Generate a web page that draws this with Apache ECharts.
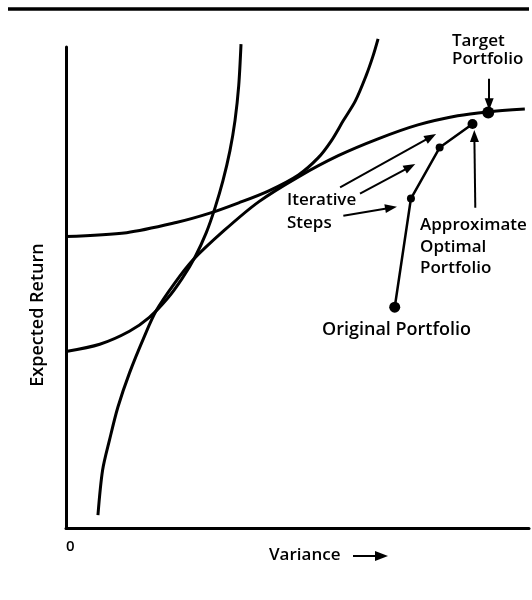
<!DOCTYPE html>
<html>
<head>
<meta charset="utf-8">
<script src="https://cdn.jsdelivr.net/npm/echarts@6/dist/echarts.min.js"></script>
<style>html,body{margin:0;padding:0;background:#fff;}#c{width:532px;height:600px;}</style>
</head>
<body>
<div id="c"></div>
<script>
// Efficient frontier (variance, expected return)
const frontierX = [6.9, 7.9, 9.4, 11.2, 13.7, 17.0, 19.5, 23.4, 27.3, 34.1, 41.6, 50.2, 58.8, 67.4, 76.0, 84.6, 91.0, 99.1];
const frontierY = [2.7, 12.0, 18.3, 25.1, 32.2, 40.0, 45.2, 50.8, 55.6, 61.8, 67.8, 73.0, 77.4, 80.9, 83.8, 85.7, 86.5, 87.1];
// Lower indifference curve
const lowerICX = [0, 7.3, 13.7, 18.0, 21.9, 25.1, 27.9, 30.3, 32.2, 33.9, 35.4, 36.5, 37.3, 37.8];
const lowerICY = [36.7, 38.2, 40.9, 43.8, 47.7, 51.9, 56.4, 61.4, 66.6, 72.2, 78.4, 84.7, 91.9, 100.6];
// Upper indifference curve
const upperICX = [0, 13.1, 23.8, 30.9, 37.3, 43.8, 50.2, 54.5, 57.3, 59.9, 62.5, 64.8, 66.3, 67.4];
const upperICY = [60.6, 61.4, 63.5, 65.4, 67.6, 70.1, 73.4, 77.0, 80.5, 84.7, 88.8, 94.0, 98.1, 101.7];
// Iterative path: original portfolio -> steps -> approximate optimal portfolio
const pathX = [71.0, 74.5, 80.7, 87.8];
const pathY = [45.9, 68.5, 79.1, 84.0];
// Target portfolio
const targetX = [91.2];
const targetY = [86.4];
// Annotation arrows [x1, y1, x2, y2]
const stepArrows = [
  [59.2, 70.8, 78.8, 81.3],
  [63.5, 69.5, 74.3, 75.1],
  [59.9, 64.9, 70.2, 66.6]
];
const targetArrow = [91.4, 93.4, 91.4, 88.1];
const approxArrow = [88.4, 66.6, 88.2, 81.5];

const zip = (a, b) => a.map((v, i) => [v, b[i]]);
const FONT = '"Open Sans", "DejaVu Sans", sans-serif';
const txt = (text, x, y, size, extra) => Object.assign({
  type: 'text', x: x, y: y,
  style: { text: text, fill: '#000', font: '600 ' + (size || 17) + 'px ' + FONT, align: 'left', verticalAlign: 'middle' }
}, extra || {});

const arrowLine = (a, curv) => [{ coord: [a[0], a[1]] }, { coord: [a[2], a[3]], lineStyle: { curveness: curv || 0 } }];

const chart = echarts.init(document.getElementById('c'));
chart.setOption({
  animation: false,
  backgroundColor: '#fff',
  grid: { left: 66, top: 47, right: 0, bottom: 72 },
  xAxis: {
    type: 'value', min: 0, max: 100, interval: 100,
    axisLine: { show: true, lineStyle: { color: '#000', width: 3 } },
    axisTick: { show: false }, splitLine: { show: false },
    axisLabel: { show: true, formatter: v => v === 0 ? '0' : '', color: '#000', align: 'left', margin: 11,
      fontFamily: FONT, fontWeight: 600, fontSize: 15 }
  },
  yAxis: {
    type: 'value', min: 0, max: 100, interval: 100,
    axisLine: { show: true, lineStyle: { color: '#000', width: 3 } },
    axisTick: { show: false }, splitLine: { show: false }, axisLabel: { show: false }
  },
  series: [
    { type: 'line', data: zip(frontierX, frontierY), smooth: 0.3, symbol: 'none', clip: false,
      lineStyle: { color: '#000', width: 3 } },
    { type: 'line', data: zip(lowerICX, lowerICY), smooth: 0.3, symbol: 'none', clip: false,
      lineStyle: { color: '#000', width: 3 } },
    { type: 'line', data: zip(upperICX, upperICY), smooth: 0.3, symbol: 'none', clip: false,
      lineStyle: { color: '#000', width: 3 } },
    { type: 'line', data: zip(pathX, pathY), smooth: false, symbol: 'circle', clip: false,
      symbolSize: (v, p) => p.dataIndex === 0 ? 11 : (p.dataIndex === 3 ? 10 : 8),
      itemStyle: { color: '#000', opacity: 1 }, lineStyle: { color: '#000', width: 2.5 },
      markLine: {
        silent: true, symbol: ['none', 'triangle'], symbolSize: [9, 12], precision: 2,
        label: { show: false },
        lineStyle: { color: '#000', width: 2, type: 'solid', opacity: 1 },
        data: stepArrows.map(a => arrowLine(a)).concat([arrowLine(targetArrow), arrowLine(approxArrow, -0.1)])
      }
    },
    { type: 'scatter', data: zip(targetX, targetY), symbolSize: 12, clip: false, itemStyle: { color: '#000', opacity: 1 } }
  ],
  graphic: [
    { type: 'line', shape: { x1: 8, y1: 9, x2: 529, y2: 9 }, style: { stroke: '#000', lineWidth: 3.5 } },
    txt('Target', 452, 41),
    txt('Portfolio', 452, 59),
    txt('Iterative', 287, 200),
    txt('Steps', 287, 223),
    txt('Approximate', 420, 225),
    txt('Optimal', 420, 247),
    txt('Portfolio', 420, 268),
    txt('Original Portfolio', 322, 330, 18),
    txt('Variance', 269, 555),
    { type: 'line', shape: { x1: 353, y1: 556, x2: 378, y2: 556 }, style: { stroke: '#000', lineWidth: 2 } },
    { type: 'polygon', shape: { points: [[375, 551], [388, 556], [375, 561]] }, style: { fill: '#000' } },
    { type: 'text', x: 38, y: 315, rotation: Math.PI / 2,
      style: { text: 'Expected Return', fill: '#000', font: '600 18px ' + FONT, align: 'center', verticalAlign: 'middle' } }
  ]
});
</script>
</body>
</html>
